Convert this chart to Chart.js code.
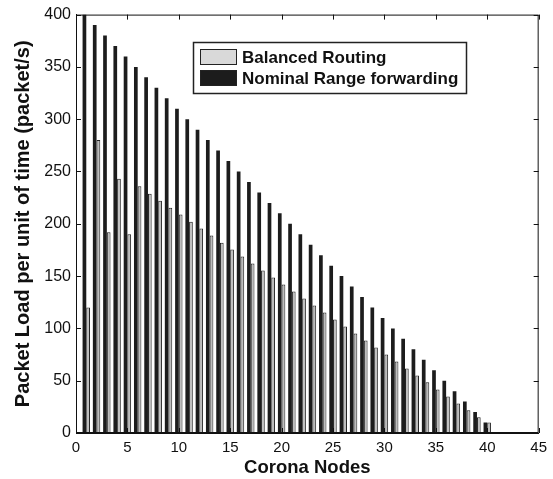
<!DOCTYPE html>
<html>
<head>
<meta charset="utf-8">
<script src="https://cdn.jsdelivr.net/npm/chart.js@4/dist/chart.umd.min.js"></script>
<style>
  html, body { margin: 0; padding: 0; background: #fff; }
  #wrap { width: 553px; height: 479px; }
</style>
</head>
<body>
<div id="wrap"><canvas id="loadChart" width="553" height="479"></canvas></div>
<script>
// corona index 1..40
const nodes = [1, 2, 3, 4, 5, 6, 7, 8, 9, 10, 11, 12, 13, 14, 15, 16, 17, 18, 19, 20,
               21, 22, 23, 24, 25, 26, 27, 28, 29, 30, 31, 32, 33, 34, 35, 36, 37, 38, 39, 40];

const balanced = [120, 280, 192, 243, 190, 235.8, 228.8, 222, 215.4, 208.8,
                  202, 195.4, 188.7, 182, 175.4, 168.7, 162, 155.3, 148.6, 142,
                  135.3, 128.6, 121.9, 115.2, 108.5, 101.9, 95.2, 88.5, 81.8, 75.1,
                  68.4, 61.6, 55, 48.4, 41.7, 35, 28.3, 21.7, 15, 10];

const nominal = [400, 390, 380, 370, 360, 350, 340, 330, 320, 310,
                 300, 290, 280, 270, 260, 250, 240, 230, 220, 210,
                 200, 190, 180, 170, 160, 150, 140, 130, 120, 110,
                 100, 90, 80, 70, 60, 50, 40, 30, 20, 10];

const xTicks = [0, 5, 10, 15, 20, 25, 30, 35, 40, 45];
const yTicks = [0, 50, 100, 150, 200, 250, 300, 350, 400];

const FONT = 'Liberation Sans, Arial, Helvetica, sans-serif';

function toPoints(vals) {
    return nodes.map((n, i) => ({ x: n, y: vals[i] }));
}

// matlab-style inward ticks on all four sides plus the box and legend
const boxTicks = {
    id: 'boxTicks',
    afterDraw(chart) {
        const { ctx, chartArea: a, scales } = chart;
        ctx.save();
        ctx.strokeStyle = '#111';
        ctx.lineWidth = 1;
        ctx.strokeRect(a.left + 0.5, a.top + 0.5, a.right - a.left - 1, a.bottom - a.top - 1);
        const len = 5;
        ctx.beginPath();
        xTicks.forEach(v => {
            const px = Math.round(scales.x.getPixelForValue(v)) + 0.5;
            ctx.moveTo(px, a.bottom); ctx.lineTo(px, a.bottom - len);
            ctx.moveTo(px, a.top); ctx.lineTo(px, a.top + len);
        });
        yTicks.forEach(v => {
            const py = Math.round(scales.y.getPixelForValue(v)) + 0.5;
            ctx.moveTo(a.left, py); ctx.lineTo(a.left + len, py);
            ctx.moveTo(a.right, py); ctx.lineTo(a.right - len, py);
        });
        ctx.stroke();

        // legend box
        const lx = 193, ly = 42, lw = 273, lh = 51;
        ctx.fillStyle = '#fff';
        ctx.fillRect(lx, ly, lw, lh);
        ctx.lineWidth = 1.5;
        ctx.strokeStyle = '#222';
        ctx.strokeRect(lx + 0.5, ly + 0.5, lw, lh);
        const rows = [
            { label: 'Balanced Routing', fill: '#d9d9d9' },
            { label: 'Nominal Range forwarding', fill: '#1c1c1c' }
        ];
        ctx.font = 'bold 17px ' + FONT;
        ctx.textBaseline = 'middle';
        ctx.textAlign = 'left';
        rows.forEach((r, i) => {
            const cy = ly + 15 + i * 21;
            ctx.fillStyle = r.fill;
            ctx.fillRect(lx + 7, cy - 8, 37, 16);
            ctx.lineWidth = 1;
            ctx.strokeStyle = '#222';
            ctx.strokeRect(lx + 7.5, cy - 7.5, 36, 15);
            ctx.fillStyle = '#111';
            ctx.fillText(r.label, lx + 49, cy + 1);
        });
        ctx.restore();
    }
};

new Chart(document.getElementById('loadChart').getContext('2d'), {
    type: 'bar',
    data: {
        datasets: [
            {
                label: 'Nominal Range forwarding',
                data: toPoints(nominal),
                backgroundColor: '#1c1c1c',
                borderColor: '#111',
                borderWidth: 0
            },
            {
                label: 'Balanced Routing',
                data: toPoints(balanced),
                backgroundColor: '#bdbdbd',
                borderColor: '#222',
                borderWidth: 1
            }
        ]
    },
    options: {
        responsive: false,
        animation: false,
        devicePixelRatio: 1,
        categoryPercentage: 0.72,
        barPercentage: 1.0,
        layout: { padding: { left: 0, right: 6, top: 14, bottom: 0 } },
        plugins: {
            legend: { display: false },
            tooltip: { enabled: false }
        },
        scales: {
            x: {
                type: 'linear',
                offset: false,
                min: 0,
                max: 45,
                afterFit(scale) { scale.height = 46; },
                afterBuildTicks(scale) { scale.ticks = xTicks.map(v => ({ value: v })); },
                grid: { display: false, drawTicks: false },
                border: { display: true, color: '#111' },
                ticks: { color: '#111', font: { family: FONT, size: 15 }, padding: 6, maxRotation: 0 },
                title: {
                    display: true,
                    text: 'Corona Nodes',
                    color: '#111',
                    font: { family: FONT, size: 18.5, weight: 'bold' },
                    padding: { top: 0, bottom: 0 }
                }
            },
            y: {
                min: 0,
                max: 400,
                afterFit(scale) { scale.width = 76; },
                afterBuildTicks(scale) { scale.ticks = yTicks.map(v => ({ value: v })); },
                grid: { display: false, drawTicks: false },
                border: { display: true, color: '#111' },
                ticks: { color: '#111', font: { family: FONT, size: 16 }, padding: 5 },
                title: {
                    display: true,
                    text: 'Packet Load per unit of time (packet/s)',
                    color: '#111',
                    font: { family: FONT, size: 20, weight: 'bold' },
                    padding: { top: 11, bottom: 0 }
                }
            }
        }
    },
    plugins: [boxTicks]
});
</script>
</body>
</html>
